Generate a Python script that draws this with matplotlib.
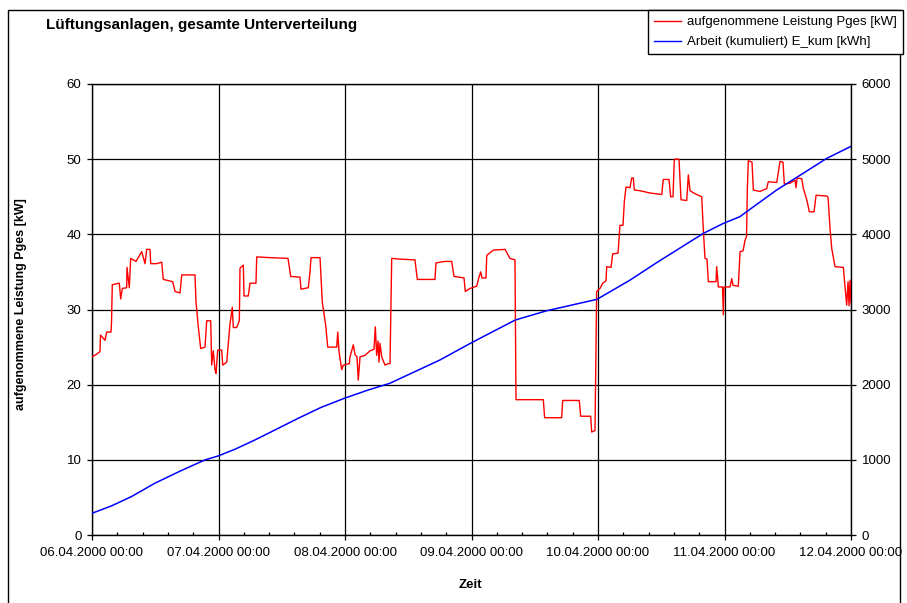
import matplotlib
matplotlib.use("Agg")
import matplotlib.pyplot as plt
from matplotlib.patches import Rectangle
from matplotlib.lines import Line2D
from matplotlib.ticker import MultipleLocator

plt.rcParams['font.family'] = ['Liberation Sans', 'DejaVu Sans']

# ---- data -------------------------------------------------------------
# time in hours since 06.04.2000 00:00
p_hours = [0.0, 0.76, 1.52, 1.61, 2.47, 2.79, 3.60, 3.70, 3.85, 5.18, 5.45, 5.75,
           6.58, 6.64, 7.08, 7.34, 8.35, 9.43, 10.06, 10.38, 11.00, 11.14, 12.28,
           13.22, 13.53, 15.31, 15.75, 16.70, 17.02, 19.54, 19.73, 20.17, 20.62,
           21.44, 21.76, 22.52, 22.71, 23.01, 23.34, 23.53, 23.85, 24.61, 24.80,
           25.56, 25.86, 26.18, 26.62, 26.81, 27.45, 27.95, 28.08, 28.71, 28.84,
           29.65, 29.98, 31.11, 31.25, 33.77, 37.19, 37.70, 39.46, 39.65, 41.04,
           41.36, 41.55, 43.26, 43.69, 44.34, 44.72, 46.43, 46.62, 46.86, 47.37,
           47.68, 48.82, 48.95, 49.57, 49.90, 50.28, 50.52, 50.85, 51.79, 52.74,
           53.50, 53.75, 54.01, 54.26, 54.45, 54.64, 54.96, 55.59, 56.16, 56.54,
           56.86, 58.43, 61.28, 61.72, 65.07, 65.26, 66.97, 68.24, 68.68, 70.58,
           70.82, 71.72, 72.99, 73.42, 73.75, 73.99, 74.75, 74.89, 76.14, 78.36,
           79.30, 80.25, 80.44, 85.62, 85.88, 89.11, 89.30, 92.45, 92.71, 94.61,
           94.80, 95.43, 95.75, 96.38, 96.89, 97.52, 97.65, 98.47, 98.79, 99.80,
           100.17, 100.74, 100.99, 101.31, 102.07, 102.39, 102.70, 102.89, 103.97,
           105.87, 108.09, 108.39, 109.47, 109.79, 110.23, 110.48, 111.37, 111.75,
           112.83, 113.14, 113.46, 114.41, 115.68, 115.98, 116.30, 116.68, 116.93,
           118.39, 118.52, 118.83, 119.62, 119.78, 119.91, 121.05, 121.37, 121.62,
           122.62, 122.95, 123.52, 123.89, 124.18, 124.33, 124.52, 125.22, 125.47,
           126.74, 128.01, 128.31, 129.91, 130.53, 131.10, 131.35, 132.43, 133.38,
           133.57, 133.76, 134.65, 134.96, 135.61, 136.10, 136.99, 137.37, 139.40,
           139.65, 140.02, 140.35, 140.97, 142.55, 142.87, 143.19, 143.44, 143.63,
           143.82, 144.0]
p_kw = [23.7, 24.0, 24.4, 26.6, 25.9, 27.0, 27.0, 28.2, 33.3, 33.5, 31.4, 32.8,
        32.9, 35.6, 32.9, 36.8, 36.4, 37.7, 36.1, 38.0, 38.0, 36.1, 36.1,
        36.3, 34.0, 33.7, 32.4, 32.2, 34.6, 34.6, 31.0, 27.7, 24.8,
        25.0, 28.5, 28.5, 22.6, 24.5, 22.0, 21.5, 24.6, 24.6, 22.6,
        23.0, 25.5, 28.1, 30.3, 27.6, 27.6, 28.5, 35.5, 35.9, 31.8,
        31.8, 33.5, 33.5, 37.0, 36.9, 36.8, 34.4, 34.3, 32.7, 32.9,
        35.0, 36.9, 36.9, 31.0, 27.9, 25.0, 25.0, 27.0, 24.4, 22.0,
        22.6, 22.8, 23.7, 25.3, 24.0, 23.7, 20.6, 23.7, 23.9, 24.5,
        24.7, 27.7, 23.9, 25.8, 23.0, 25.5, 23.7, 22.6, 22.8, 22.8,
        36.8, 36.7, 36.6, 34.0, 34.0, 36.2, 36.4, 36.4, 34.4, 34.2,
        32.4, 32.8, 33.1, 34.3, 35.0, 34.2, 34.2, 37.2, 37.9, 38.0,
        36.8, 36.6, 18.0, 18.0, 15.6, 15.6, 17.9, 17.9, 15.8, 15.8,
        13.7, 13.9, 32.4, 32.8, 33.5, 33.8, 35.7, 35.6, 37.4, 37.5,
        41.2, 41.2, 44.3, 46.3, 46.2, 47.5, 47.5, 45.9, 45.8,
        45.5, 45.3, 47.3, 47.3, 45.0, 45.0, 50.0, 50.0, 44.6,
        44.5, 47.9, 45.8, 45.4, 45.0, 40.6, 36.8, 36.7, 33.7,
        33.7, 35.7, 33.0, 33.0, 29.3, 33.0, 33.0, 34.1, 33.2,
        33.1, 37.7, 37.8, 39.2, 39.7, 45.9, 49.8, 49.6, 45.9,
        45.7, 46.1, 47.0, 46.9, 49.7, 49.6, 46.7, 46.8, 47.2,
        46.2, 47.5, 47.4, 46.1, 44.6, 43.0, 43.0, 45.2, 45.1,
        44.9, 40.8, 38.1, 35.7, 35.6, 33.0, 30.6, 33.7, 30.5,
        33.9, 30.9]

e_hours = [0.0, 3.66, 7.46, 11.9, 16.9, 21.4, 23.9, 27.1, 30.9, 34.7, 39.1, 43.5,
           47.9, 52.4, 56.5, 66.0, 72.0, 80.3, 86.3, 95.8, 102.1, 107.1, 116.0,
           119.8, 122.9, 124.2, 129.9, 134.9, 139.4, 144.0]
e_kwh = [289, 386, 510, 688, 856, 998, 1051, 1140, 1264, 1397, 1552, 1699,
         1819, 1929, 2018, 2328, 2558, 2860, 2984, 3135, 3392, 3622, 4013,
         4146, 4234, 4301, 4590, 4811, 5011, 5170]

x_tick_hours = [0, 24, 48, 72, 96, 120, 144]
x_tick_labels = ['06.04.2000 00:00', '07.04.2000 00:00', '08.04.2000 00:00',
                 '09.04.2000 00:00', '10.04.2000 00:00', '11.04.2000 00:00',
                 '12.04.2000 00:00']

label_p = 'aufgenommene Leistung Pges [kW]'
label_e = 'Arbeit (kumuliert) E_kum [kWh]'

# ---- figure -----------------------------------------------------------
W, H = 907, 603
fig = plt.figure(figsize=(W / 100, H / 100), dpi=100)
fig.patch.set_facecolor('white')

rect = [92 / W, 1 - 535 / H, (851 - 92) / W, (535 - 84) / H]
ax = fig.add_axes(rect)
ax2 = fig.add_axes(rect, frameon=False)
ax2.patch.set_visible(False)
ax2.xaxis.set_visible(False)
ax2.yaxis.tick_right()

ax.plot(p_hours, p_kw, color='#FF0000', lw=1.0, zorder=3)
ax2.plot(e_hours, e_kwh, color='#0000FF', lw=1.1, zorder=3)

ax.set_xlim(0, 144)
ax2.set_xlim(0, 144)
ax.set_ylim(0, 60)
ax2.set_ylim(0, 6000)

ax.xaxis.set_ticks_position('bottom')
ax.yaxis.set_ticks_position('left')
ax.set_xticks(x_tick_hours)
ax.set_xticklabels(x_tick_labels)
ax.xaxis.set_minor_locator(MultipleLocator(4.8))
ax.set_yticks(range(0, 61, 10))
ax2.set_yticks(range(0, 6001, 1000))

ax.grid(True, which='major', color='black', lw=0.9)
ax.set_axisbelow(True)

fs = 9.5
ax.tick_params(axis='x', which='major', direction='out', length=3.6, width=0.9,
               labelsize=fs, pad=5, colors='black')
ax.tick_params(axis='x', which='minor', direction='in', length=2.2, width=0.9)
ax.tick_params(axis='y', which='major', direction='out', length=3.6, width=0.9,
               labelsize=fs, pad=4)
ax2.tick_params(axis='y', which='major', direction='out', length=3.6, width=0.9,
                labelsize=fs, pad=4)

for s in ax.spines.values():
    s.set_color('black')
    s.set_linewidth(1.0)

ax.set_ylabel(label_p, fontsize=9, fontweight='bold')
ax.yaxis.set_label_coords((27 - 92) / 759, 0.513)
ax.set_xlabel('Zeit', fontsize=9.5, fontweight='bold')
ax.xaxis.set_label_coords((470.7 - 92) / 759, (535 - 579) / 451)

fig.text(46 / W, 1 - 25 / H, 'Lüftungsanlagen, gesamte Unterverteilung',
         fontsize=11, fontweight='bold', ha='left', va='center')

# outer chart frame
fig.patches.append(Rectangle((8 / W, -0.02), (900 - 8) / W, 1 - 10 / H + 0.02,
                             transform=fig.transFigure, fill=False,
                             edgecolor='black', lw=1.0, zorder=0))

handles = [Line2D([], [], color='#FF0000', lw=1.0),
           Line2D([], [], color='#0000FF', lw=1.0)]
leg = fig.legend(handles, [label_p, label_e], loc='upper right',
                 bbox_to_anchor=(903 / W, 1 - 10 / H), fontsize=fs,
                 frameon=True, fancybox=False, edgecolor='black',
                 framealpha=1, borderpad=0.45, labelspacing=0.6,
                 handlelength=2.0, handletextpad=0.5, borderaxespad=0)
leg.get_frame().set_linewidth(1.0)

fig.savefig('out.png', dpi=100)
